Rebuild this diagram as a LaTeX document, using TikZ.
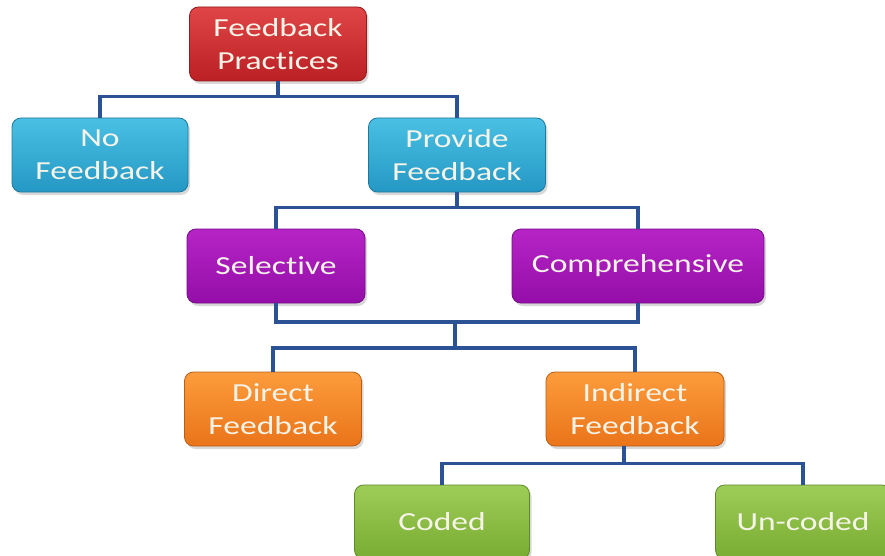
\documentclass[tikz,border=0pt]{standalone}
\usepackage{fontspec}
\setmainfont[FakeStretch=1.29,Ligatures=NoCommon]{Carlito}
\usepackage{tikz}
\usepackage{xcolor}
\usetikzlibrary{shadows}

\definecolor{linkblue}{RGB}{44,82,150}
\definecolor{redtop}{RGB}{224,70,70}
\definecolor{redbot}{RGB}{186,32,36}
\definecolor{cyantop}{RGB}{74,192,228}
\definecolor{cyanbot}{RGB}{36,152,196}
\definecolor{purptop}{RGB}{182,36,198}
\definecolor{purpbot}{RGB}{148,14,168}
\definecolor{orantop}{RGB}{252,156,60}
\definecolor{oranbot}{RGB}{234,116,26}
\definecolor{greentop}{RGB}{158,204,88}
\definecolor{greenbot}{RGB}{120,172,50}
\definecolor{boxtext}{RGB}{246,244,232}

\begin{document}
\begin{tikzpicture}[x=1pt,y=-1pt,
  box/.style={rectangle,rounded corners=9pt,minimum height=74pt,minimum width=177pt,
    align=center,text=boxtext,font=\fontsize{26}{33}\selectfont,line width=0.8pt,
    drop shadow={shadow xshift=2pt,shadow yshift=-3pt,opacity=0.3}},
  redbox/.style={box,top color=redtop,bottom color=redbot,draw=redbot!80!black},
  cyanbox/.style={box,top color=cyantop,bottom color=cyanbot,draw=cyanbot!80!black},
  purpbox/.style={box,top color=purptop,bottom color=purpbot,draw=purpbot!80!black},
  oranbox/.style={box,top color=orantop,bottom color=oranbot,draw=oranbot!80!black},
  greenbox/.style={box,top color=greentop,bottom color=greenbot,draw=greenbot!80!black},
  link/.style={draw=linkblue,line width=3.3pt}]
\clip (0,0) rectangle (885,556);
\fill[white] (0,0) rectangle (885,556);

% boxes, top to bottom
\node (fp) at (278,44) [redbox]{Feedback\\Practices};
\node (nofb) at (100,155) [cyanbox,minimum width=176pt]{No\\Feedback};
\node (provfb) at (457,155) [cyanbox]{Provide\\Feedback};
\node (sel) at (276,266) [purpbox,minimum width=178pt]{Selective};
\node (comp) at (638,266) [purpbox,minimum width=252pt]{Comprehensive};
\node (dir) at (273,409) [oranbox]{Direct\\Feedback};
\node (indir) at (635,409) [oranbox,minimum width=178pt]{Indirect\\Feedback};
\node (coded) at (442,522) [greenbox,minimum width=175pt]{Coded};
\node (uncoded) at (803,522) [greenbox,minimum width=175pt]{Un-coded};

\coordinate (join) at (455,322);

% connectors
\draw[link] (fp.south) -- ++(0,15) -| (nofb.north);
\draw[link] (fp.south) -- ++(0,15) -| (provfb.north);
\draw[link] (provfb.south) -- ++(0,15) -| (sel.north);
\draw[link] (provfb.south) -- ++(0,15) -| (comp.north);
\draw[link] (sel.south) |- (join) -| (comp.south);
\draw[link] (join) -- ++(0,26) -| (dir.north);
\draw[link] (join) -- ++(0,26) -| (indir.north);
\draw[link] ([xshift=-11pt]indir.south) -- ++(0,17) -| (coded.north);
\draw[link] ([xshift=-11pt]indir.south) -- ++(0,17) -| (uncoded.north);
\end{tikzpicture}
\end{document}
